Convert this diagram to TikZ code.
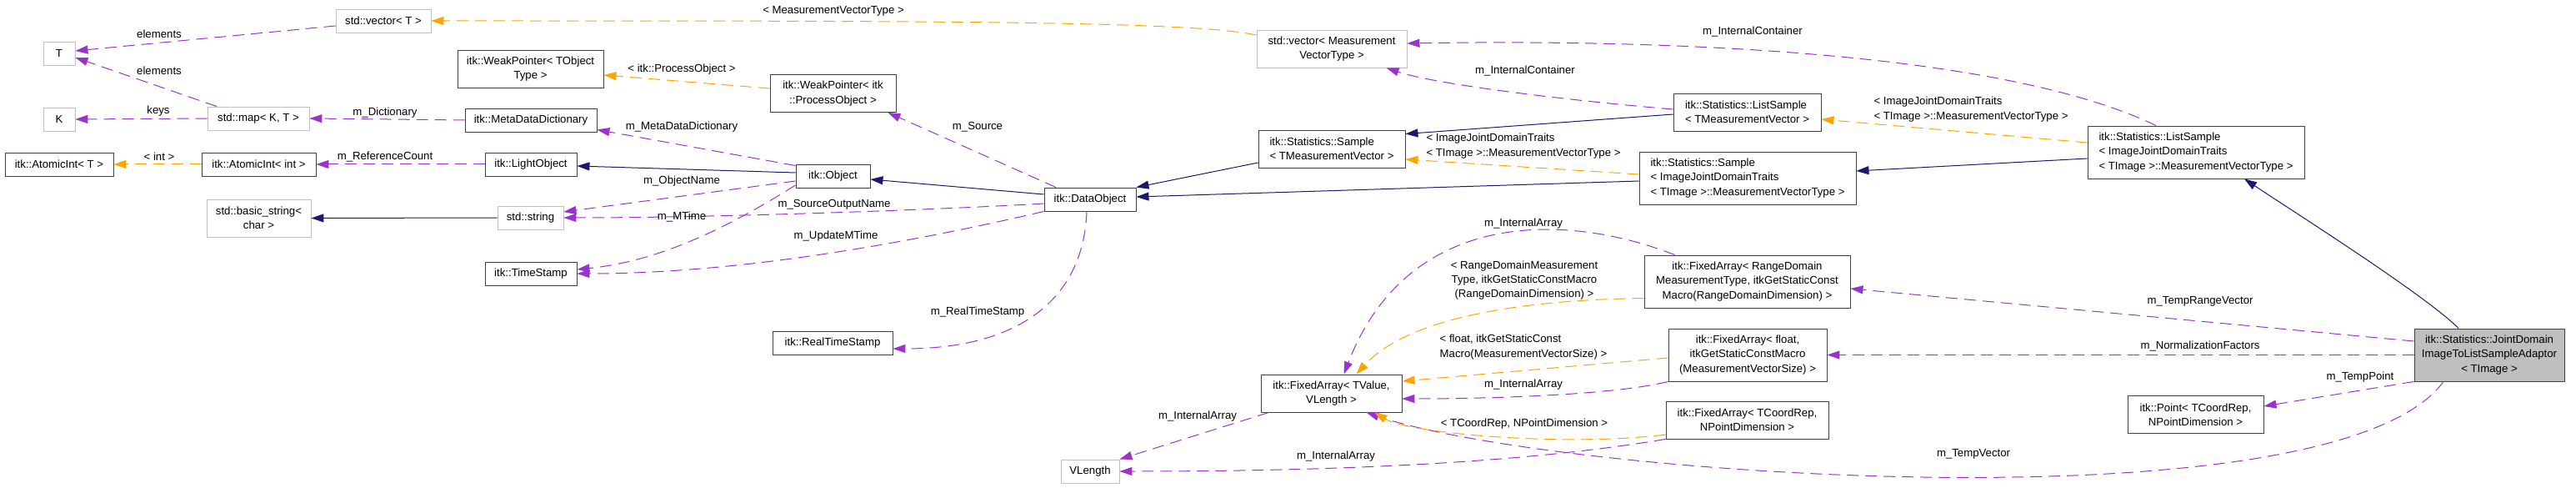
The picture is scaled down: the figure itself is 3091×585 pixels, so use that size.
\documentclass[tikz,border=0pt]{standalone}
\usepackage{fontspec}
\setmainfont{Liberation Sans}
\usetikzlibrary{arrows.meta}
\newcommand\dxfont{\fontsize{13.2}{17.3}\selectfont}
\definecolor{memcol}{HTML}{9A32CD}
\definecolor{tplcol}{HTML}{FFA500}
\definecolor{inhcol}{HTML}{191970}

\begin{document}
\begin{tikzpicture}[x=1pt, y=-1pt,
  cls/.style={draw=black!75, fill=white, line width=0.9pt, inner sep=0pt, align=center, font=\dxfont},
  ext/.style={cls, draw=gray!50},
  cur/.style={cls, fill=gray!50},
  h1/.style={minimum height=28pt},
  h2/.style={minimum height=45pt},
  h3/.style={minimum height=63pt},
  lbl/.style={inner sep=0pt, font=\dxfont},
  mem/.style={draw=memcol, line width=1pt, dash pattern=on 14pt off 8pt, -{Triangle[length=15pt,width=10pt]}},
  tpl/.style={mem, draw=tplcol},
  inh/.style={draw=inhcol, line width=1pt, -{Triangle[length=15pt,width=10pt]}}
]
\path[use as bounding box, fill=white] (0,0) rectangle (3091,585);

% classes
\node[ext, h1, minimum width=38pt] (T) at (71,64) {T};
\node[ext, h1, minimum width=38pt] (K) at (71,143) {K};
\node[ext, h1, minimum width=114pt] (vecT) at (460,25) {std::vector< T >};
\node[ext, h1, minimum width=122pt] (map) at (310,142) {std::map< K, T >};
\node[cls, h1, minimum width=130pt] (aiT) at (71,197) {itk::AtomicInt< T >};
\node[cls, h1, minimum width=137pt] (aiInt) at (310.5,197) {itk::AtomicInt< int >};
\node[ext, h2, minimum width=125pt] (bstr) at (310.5,261.5) {std::basic\_string<\\char >};
\node[cls, h2, minimum width=175pt] (wpT) at (636.5,82.5) {itk::WeakPointer< TObject\\Type >};
\node[cls, h2, minimum width=151pt] (wpPO) at (999.5,112) {itk::WeakPointer< itk\\::ProcessObject >};
\node[cls, h1, minimum width=158pt] (mdd) at (637,144) {itk::MetaDataDictionary};
\node[cls, h1, minimum width=110pt] (light) at (637,197) {itk::LightObject};
\node[cls, h1, minimum width=89pt] (obj) at (999.5,211) {itk::Object};
\node[ext, h1, minimum width=79pt] (str) at (636.5,261) {std::string};
\node[cls, h1, minimum width=110pt] (ts) at (637,328) {itk::TimeStamp};
\node[cls, h1, minimum width=144pt] (rts) at (999,411) {itk::RealTimeStamp};
\node[cls, h1, minimum width=110pt] (dobj) at (1308,239) {itk::DataObject};
\node[ext, h2, minimum width=180pt] (vecMV) at (1598,58.5) {std::vector< Measurement\\VectorType >};
\node[cls, h2, minimum width=176pt, align=left] (smp) at (1598,178.5) {itk::Statistics::Sample\\< TMeasurementVector >};
\node[cls, h2, minimum width=177pt, align=left] (ls) at (2096.5,134.5) {itk::Statistics::ListSample\\< TMeasurementVector >};
\node[cls, h3, minimum width=260pt, align=left] (smpIJ) at (2097,213.5) {itk::Statistics::Sample\\< ImageJointDomainTraits\\< TImage >::MeasurementVectorType >};
\node[cls, h3, minimum width=260pt, align=left] (lsIJ) at (2635,182.5) {itk::Statistics::ListSample\\< ImageJointDomainTraits\\< TImage >::MeasurementVectorType >};
\node[cls, h2, minimum width=169pt] (fa) at (1597.5,471.5) {itk::FixedArray< TValue,\\VLength >};
\node[ext, h1, minimum width=70pt] (vlen) at (1308,565) {VLength};
\node[cls, h3, minimum width=247pt] (faRD) at (2096.5,337.5) {itk::FixedArray< RangeDomain\\MeasurementType, itkGetStaticConst\\Macro(RangeDomainDimension) >};
\node[cls, h3, minimum width=190pt] (faF) at (2097,425.5) {itk::FixedArray< float,\\itkGetStaticConstMacro\\(MeasurementVectorSize) >};
\node[cls, h2, minimum width=195pt] (faC) at (2096.5,503.5) {itk::FixedArray< TCoordRep,\\NPointDimension >};
\node[cls, h2, minimum width=163pt] (point) at (2634.5,497) {itk::Point< TCoordRep,\\NPointDimension >};
\node[cur, h3, minimum width=180pt] (jd) at (2987,425.5) {itk::Statistics::JointDomain\\ImageToListSampleAdaptor\\< TImage >};

% relations
\draw[mem] ([yshift=-6pt]vecT.west) -- ([yshift=3pt]T.east);
\draw[mem] ([xshift=-50pt]map.north) -- ([yshift=-5pt]T.east);
\draw[mem] (map.west) -- (K.east);
\draw[tpl] (aiInt.west) -- (aiT.east);
\draw[mem] (mdd.west) -- (map.east);
\draw[mem] (light.west) -- (aiInt.east);
\draw[inh] (str.west) -- (bstr.east);
\draw[tpl] ([yshift=16.5pt]vecMV.west) .. controls +(-80,-17) and +(600,0) .. (vecT.east);
\draw[tpl] ([yshift=6pt]wpPO.west) -- ([yshift=-7.5pt]wpT.east);
\draw[mem] ([yshift=-2pt]obj.north west) -- ([yshift=3pt]mdd.south east);
\draw[inh] ([yshift=4pt]obj.west) -- ([yshift=-2pt]light.east);
\draw[mem] ([yshift=-6pt]obj.west) -- ([yshift=7pt]str.east);
\draw[mem] ([yshift=-11pt]obj.west) .. controls +(-80,50) and +(100,-10) .. ([yshift=5pt]ts.east);
\draw[mem] ([yshift=-5pt]dobj.west) .. controls +(-100,6) and +(200,0) .. (str.east);
\draw[mem] (dobj.south west) .. controls +(-150,35) and +(200,0) .. (ts.east);
\draw[mem] ([xshift=-41pt]dobj.north) -- ([xshift=-10pt]wpPO.south east);
\draw[inh] ([yshift=6pt]dobj.west) -- ([yshift=-4pt]obj.east);
\draw[mem] ([xshift=-4pt]dobj.south) .. controls +(-4,107) and +(149,0) .. ([yshift=-7pt]rts.east);
\draw[inh] ([yshift=-16.5pt]smp.west) -- (dobj.north east);
\draw[inh] ([yshift=-3.5pt]smpIJ.west) -- ([yshift=3pt]dobj.east);
\draw[mem] ([yshift=3.5pt]ls.west) .. controls +(-120,-10) and +(60,20) .. ([xshift=-25pt]vecMV.south east);
\draw[inh] ([yshift=-2.5pt]ls.west) -- ([yshift=-5pt]smp.north east);
\draw[tpl] ([yshift=4.5pt]smpIJ.west) -- ([yshift=-12.5pt]smp.east);
\draw[mem] ([xshift=-48pt]lsIJ.north) .. controls +(-187,-90) and +(300,-5) .. ([yshift=6.5pt]vecMV.east);
\draw[tpl] ([yshift=11.5pt]lsIJ.west) -- ([yshift=-8.5pt]ls.east);
\draw[inh] ([yshift=-7.5pt]lsIJ.west) -- ([yshift=8.5pt]smpIJ.east);
\draw[inh] ([xshift=-37pt]jd.north) .. controls +(-40,-40) and +(60,40) .. ([xshift=58pt]lsIJ.south);
\draw[mem] ([yshift=16.5pt]jd.west) -- ([yshift=-8.5pt]faRD.east);
\draw[mem] (jd.west) -- (faF.east);
\draw[mem] (jd.south west) -- ([yshift=10pt]point.east);
\draw[mem] ([xshift=-55pt]jd.south) .. controls +(-132,180) and +(220,75) .. ([xshift=42pt]fa.south);
\draw[tpl] ([yshift=-17.5pt]faC.west) .. controls +(-120,15) and +(40,25) .. ([xshift=52pt]fa.south);
\draw[tpl] ([yshift=-3.5pt]faF.west) -- ([yshift=14.5pt]fa.east);
\draw[mem] (faF.south west) .. controls +(-60,15) and +(120,0) .. ([yshift=-6.5pt]fa.east);
\draw[tpl] ([yshift=-20pt]faRD.west) .. controls +(-143,2) and +(63,-69) .. ([xshift=30pt]fa.north);
\draw[mem] ([xshift=37pt]faRD.north west) .. controls +(-130,-51) and +(77,-199) .. ([xshift=15pt]fa.north);
\draw[mem] ([xshift=10pt]fa.south west) -- (vlen.north east);
\draw[mem] (faC.south west) .. controls +(-150,25) and +(300,0) .. (vlen.east);

% edge labels
\node[lbl] (lElemA) at (191,41) {elements};
\node[lbl] (lElemB) at (191,85) {elements};
\node[lbl] (lKeys) at (190,133) {keys};
\node[lbl] (lInt) at (191,188) {< int >};
\node[lbl] (lDict) at (462,135) {m\_Dictionary};
\node[lbl] (lRef) at (462,188) {m\_ReferenceCount};
\node[lbl] (lMVT) at (1000,13) {< MeasurementVectorType >};
\node[lbl] (lPO) at (818,83) {< itk::ProcessObject >};
\node[lbl] (lMDD) at (818,152) {m\_MetaDataDictionary};
\node[lbl] (lObjName) at (818,217) {m\_ObjectName};
\node[lbl] (lMTime) at (818,260) {m\_MTime};
\node[lbl] (lSrcOut) at (1001,245) {m\_SourceOutputName};
\node[lbl] (lUpd) at (1003,283) {m\_UpdateMTime};
\node[lbl] (lSrc) at (1173,152) {m\_Source};
\node[lbl] (lRTS) at (1173,374) {m\_RealTimeStamp};
\node[lbl] (lContA) at (1830,85) {m\_InternalContainer};
\node[lbl, align=left] (lTraitsA) at (1828,175) {< ImageJointDomainTraits\\< TImage >::MeasurementVectorType >};
\node[lbl] (lContB) at (2103,38) {m\_InternalContainer};
\node[lbl, align=left] (lTraitsB) at (2365,131) {< ImageJointDomainTraits\\< TImage >::MeasurementVectorType >};
\node[lbl] (lRange) at (2640,361) {m\_TempRangeVector};
\node[lbl] (lNorm) at (2640,415) {m\_NormalizationFactors};
\node[lbl] (lTPoint) at (2832,452) {m\_TempPoint};
\node[lbl] (lTVec) at (2368,544) {m\_TempVector};
\node[lbl, align=center] (lRD) at (1829,336) {< RangeDomainMeasurement\\Type, itkGetStaticConstMacro\\(RangeDomainDimension) >};
\node[lbl] (lArrA) at (1828,268) {m\_InternalArray};
\node[lbl, align=left] (lFl) at (1828,416) {< float, itkGetStaticConst\\Macro(MeasurementVectorSize) >};
\node[lbl] (lArrB) at (1828,461) {m\_InternalArray};
\node[lbl] (lTC) at (1829,508) {< TCoordRep, NPointDimension >};
\node[lbl] (lArrC) at (1437,499) {m\_InternalArray};
\node[lbl] (lArrD) at (1603,547) {m\_InternalArray};
\end{tikzpicture}
\end{document}
